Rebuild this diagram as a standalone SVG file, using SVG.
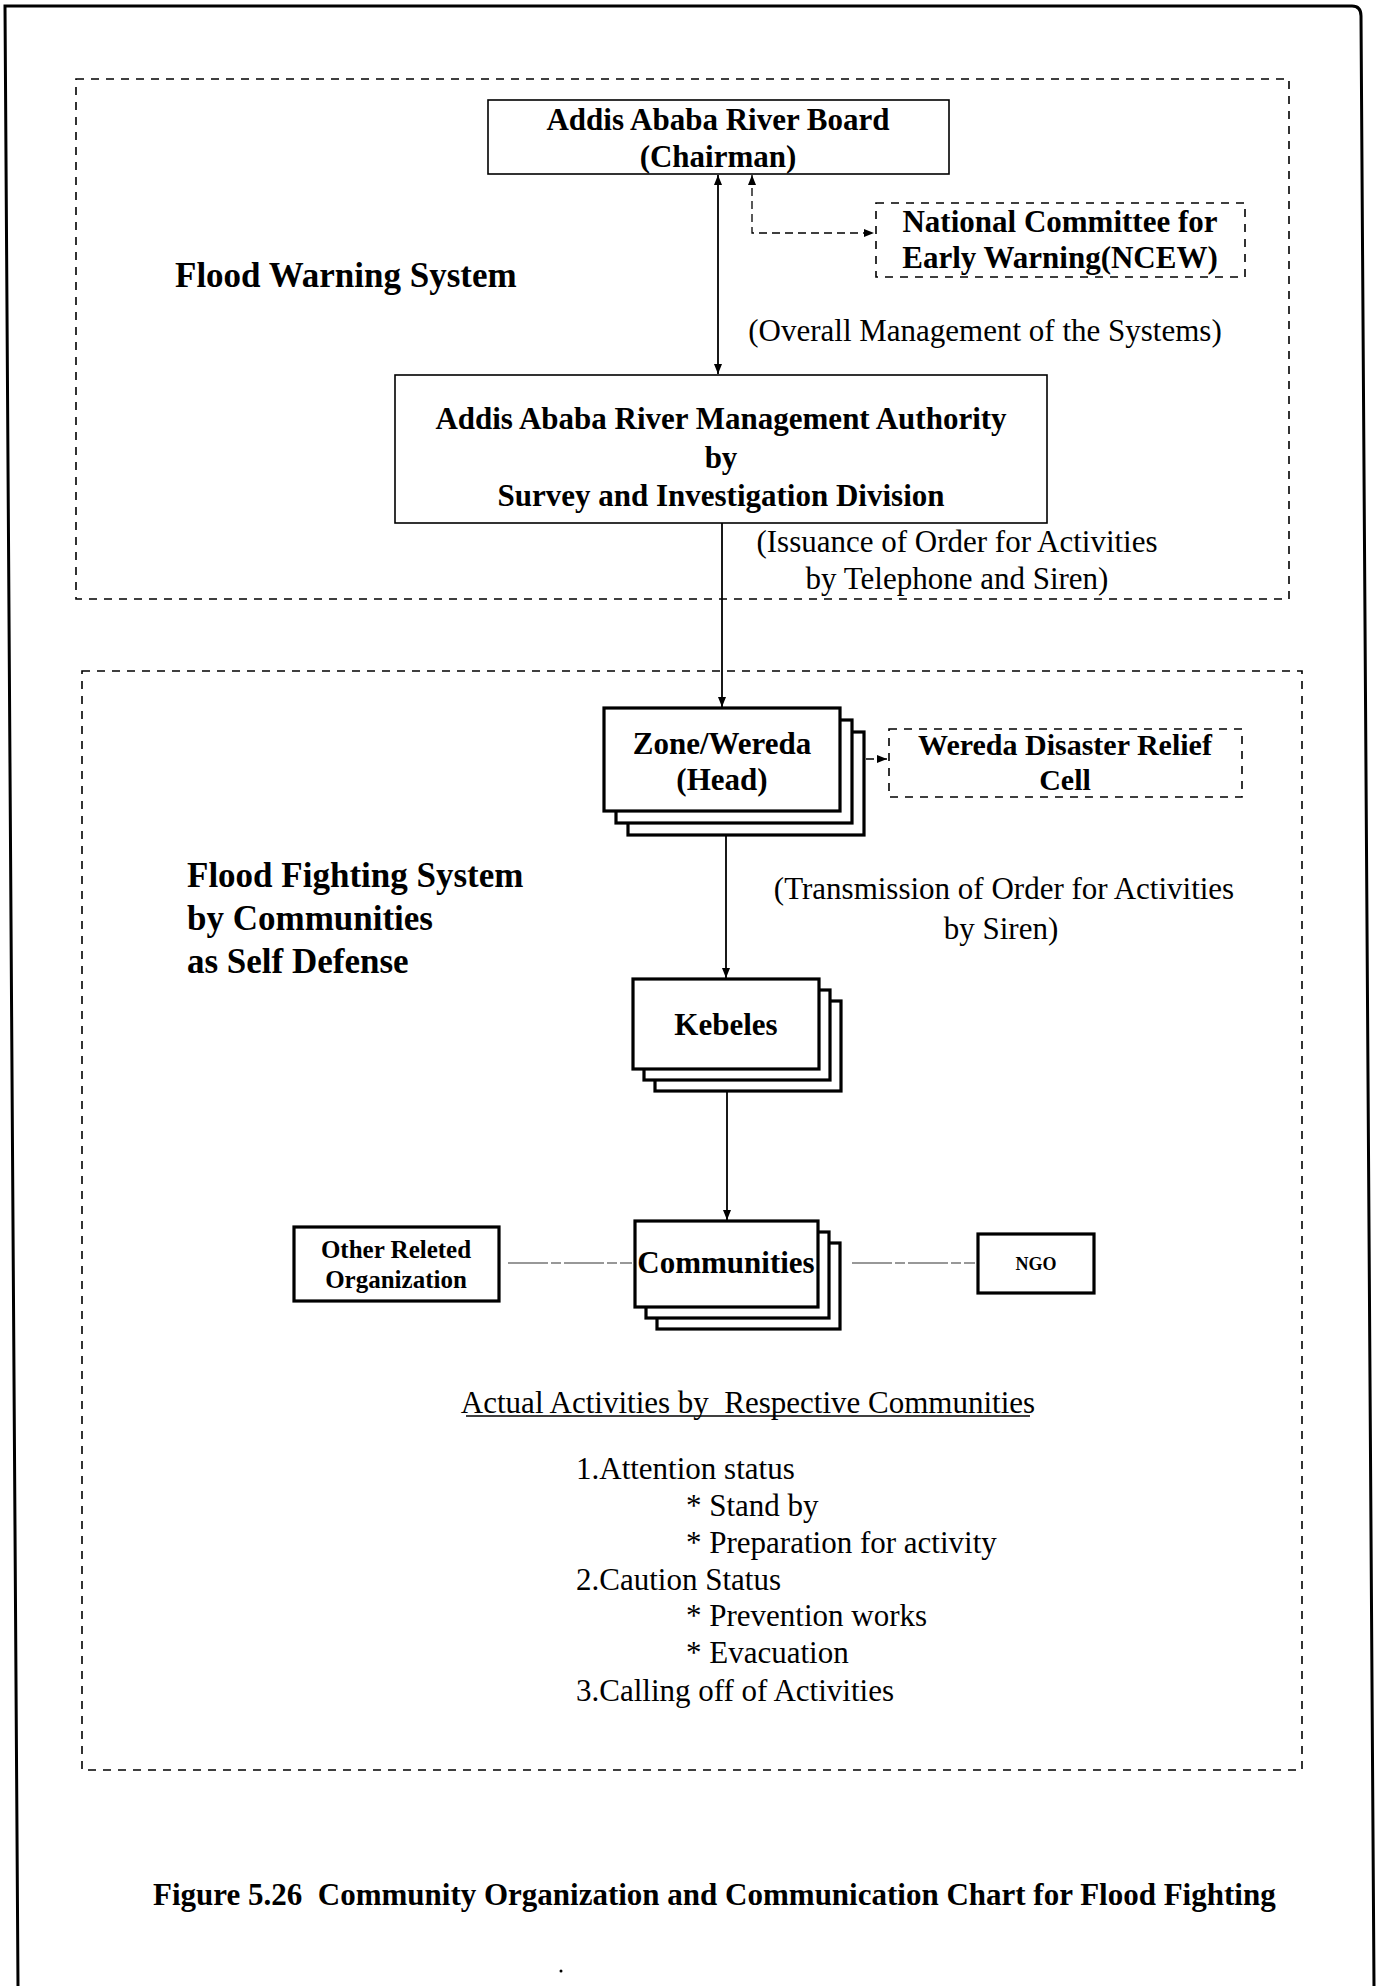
<svg xmlns="http://www.w3.org/2000/svg" width="1378" height="1986" viewBox="0 0 1378 1986">
<style>
text{font-family:"Liberation Serif","Times New Roman",serif;fill:#000}
.b{font-weight:bold;font-size:31px}
.h{font-weight:bold;font-size:35px}
.r{font-size:31px}
.c{text-anchor:middle}
.box{fill:#fff;stroke:#000;stroke-width:1.6}
.tk{fill:#fff;stroke:#000;stroke-width:3.2}
.dash{fill:none;stroke:#000;stroke-width:1.6;stroke-dasharray:8 7}
.ln{fill:none;stroke:#000;stroke-width:1.8}
.dl{fill:none;stroke:#000;stroke-width:1.3;stroke-dasharray:8 5}
.thin{fill:none;stroke:#333;stroke-width:1.2;stroke-dasharray:40 3 10 3}
</style>
<defs>
<marker id="ah" viewBox="0 0 10 8" refX="10" refY="4" markerWidth="10" markerHeight="8" markerUnits="userSpaceOnUse" orient="auto-start-reverse">
<path d="M0,0 L10,4 L0,8 Z" fill="#000"/>
</marker>
</defs>
<rect width="1378" height="1986" fill="#fff"/>
<g id="frame" fill="none" stroke="#000" stroke-width="3">
<path d="M18,1986 L5,6 L1352,6 Q1361,6 1361,16 L1374,1986"/>
</g>
<g id="flood-warning-system">
<rect class="dash" x="76" y="79" width="1213" height="520"/>
<text class="h" x="175" y="287">Flood Warning System</text>
</g>
<g id="flood-fighting-system">
<rect class="dash" x="82" y="671" width="1220" height="1099"/>
<text class="h" x="187" y="887">Flood Fighting System</text>
<text class="h" x="187" y="930">by Communities</text>
<text class="h" x="187" y="973">as Self Defense</text>
</g>
<g id="connectors">
<line class="ln" x1="718" y1="175" x2="718" y2="374" marker-start="url(#ah)" marker-end="url(#ah)"/>
<path class="dl" d="M752,175 V233 H874" marker-start="url(#ah)" marker-end="url(#ah)"/>
<line class="ln" x1="722" y1="523" x2="722" y2="707" marker-end="url(#ah)"/>
<path class="dl" d="M866,759 H887" marker-end="url(#ah)"/>
<line class="ln" x1="726" y1="811" x2="726" y2="978" marker-end="url(#ah)"/>
<line class="ln" x1="727" y1="1069" x2="727" y2="1220" marker-end="url(#ah)"/>
<line class="thin" x1="508" y1="1263" x2="632" y2="1263"/>
<line class="thin" x1="852" y1="1263" x2="975" y2="1263"/>
<text class="r c" x="985" y="341">(Overall Management of the Systems)</text>
<text class="r c" x="957" y="552">(Issuance of Order for Activities</text>
<text class="r c" x="957" y="589">by Telephone and Siren)</text>
<text class="r c" x="1004" y="899">(Transmission of Order for Activities</text>
<text class="r c" x="1001" y="939">by Siren)</text>
</g>
<g id="river-board">
<rect class="box" x="488" y="100" width="461" height="74"/>
<text class="b c" x="718" y="130">Addis Ababa River Board</text>
<text class="b c" x="718" y="167">(Chairman)</text>
</g>
<g id="ncew">
<rect class="dash" x="876" y="203" width="369" height="74"/>
<text class="b c" x="1060" y="232">National Committee for</text>
<text class="b c" x="1060" y="268">Early Warning(NCEW)</text>
</g>
<g id="river-authority">
<rect class="box" x="395" y="375" width="652" height="148"/>
<text class="b c" x="721" y="429">Addis Ababa River Management Authority</text>
<text class="b c" x="721" y="468">by</text>
<text class="b c" x="721" y="506">Survey and Investigation Division</text>
</g>
<g id="zone-wereda">
<rect class="tk" x="628" y="732" width="236" height="103"/>
<rect class="tk" x="616" y="720" width="236" height="103"/>
<rect class="tk" x="604" y="708" width="236" height="103"/>
<text class="b c" x="722" y="754">Zone/Wereda</text>
<text class="b c" x="722" y="790">(Head)</text>
</g>
<g id="wereda-relief-cell">
<rect class="dash" x="889" y="729" width="353" height="68"/>
<text class="c" x="1065" y="755" style="font-weight:bold;font-size:30px">Wereda Disaster Relief</text>
<text class="c" x="1065" y="790" style="font-weight:bold;font-size:30px">Cell</text>
</g>
<g id="kebeles">
<rect class="tk" x="655" y="1001" width="186" height="90"/>
<rect class="tk" x="644" y="990" width="186" height="90"/>
<rect class="tk" x="633" y="979" width="186" height="90"/>
<text class="b c" x="726" y="1035">Kebeles</text>
</g>
<g id="communities">
<rect class="tk" x="657" y="1243" width="183" height="86"/>
<rect class="tk" x="646" y="1232" width="183" height="86"/>
<rect class="tk" x="635" y="1221" width="183" height="86"/>
<text class="b c" x="726" y="1273">Communities</text>
</g>
<g id="other-org">
<rect class="tk" x="294" y="1227" width="205" height="74"/>
<text class="c" x="396" y="1258" style="font-weight:bold;font-size:25px">Other Releted</text>
<text class="c" x="396" y="1288" style="font-weight:bold;font-size:25px">Organization</text>
</g>
<g id="ngo">
<rect class="tk" x="978" y="1234" width="116" height="59"/>
<text class="c" x="1036" y="1270" style="font-weight:bold;font-size:18px">NGO</text>
</g>
<g id="activities">
<text class="r c" x="748" y="1413">Actual Activities by&#160; Respective Communities</text>
<line x1="466" y1="1416" x2="1030" y2="1416" stroke="#000" stroke-width="1.5"/>
<text class="r" x="576" y="1479">1.Attention status</text>
<text class="r" x="686" y="1516">* Stand by</text>
<text class="r" x="686" y="1553">* Preparation for activity</text>
<text class="r" x="576" y="1590">2.Caution Status</text>
<text class="r" x="686" y="1626">* Prevention works</text>
<text class="r" x="686" y="1663">* Evacuation</text>
<text class="r" x="576" y="1701">3.Calling off of Activities</text>
</g>
<g id="caption">
<text class="b" x="153" y="1905">Figure 5.26&#160; Community Organization and Communication Chart for Flood Fighting</text>
</g>
<circle cx="561" cy="1971" r="1.5" fill="#000"/>
</svg>
